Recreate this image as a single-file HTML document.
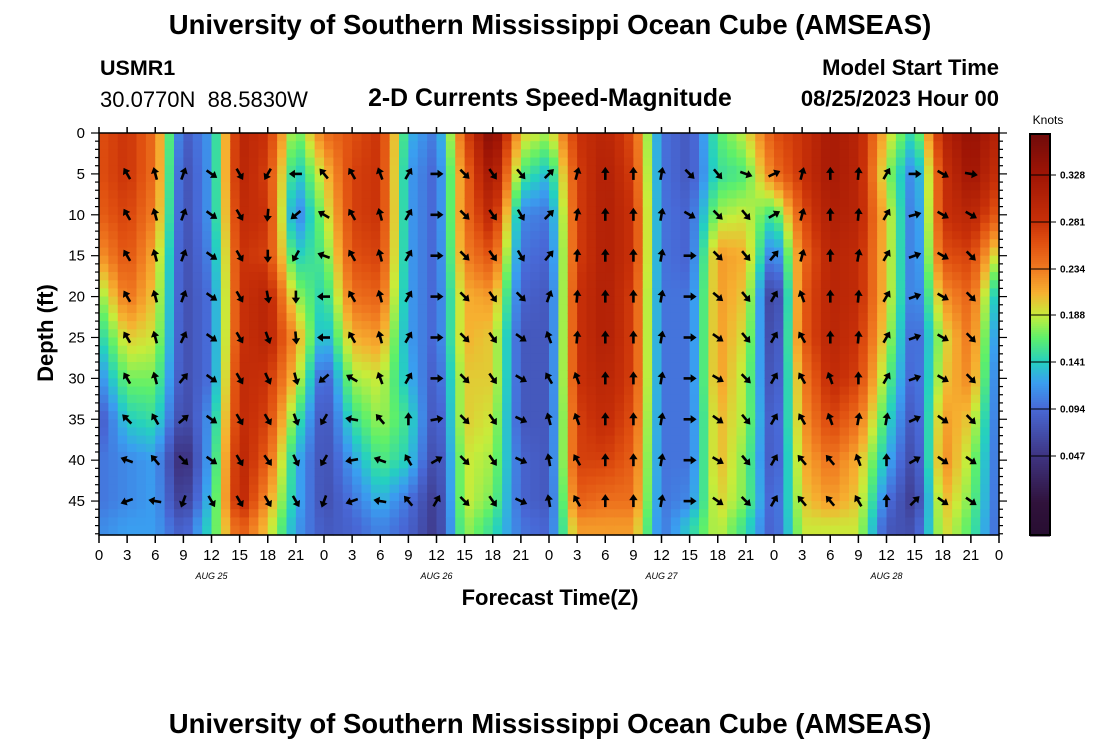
<!DOCTYPE html>
<html><head><meta charset="utf-8"><style>
body{margin:0;background:#fff;width:1100px;height:750px;overflow:hidden;font-family:"Liberation Sans",sans-serif}
svg text{font-family:"Liberation Sans",sans-serif}
</style></head><body>
<svg id="chart" width="1100" height="750" xmlns="http://www.w3.org/2000/svg">
<text x="550" y="34" text-anchor="middle" font-size="27.5" font-weight="bold">University of Southern Mississippi Ocean Cube (AMSEAS)</text>
<text x="100" y="75" font-size="21.5" font-weight="bold">USMR1</text>
<text x="100" y="107" font-size="22" xml:space="preserve">30.0770N  88.5830W</text>
<text x="550" y="106" text-anchor="middle" font-size="24.8" font-weight="bold">2-D Currents Speed-Magnitude</text>
<text x="999" y="75" text-anchor="end" font-size="22" font-weight="bold">Model Start Time</text>
<text x="999" y="106" text-anchor="end" font-size="22" font-weight="bold">08/25/2023 Hour 00</text>
<text transform="translate(53,333) rotate(-90)" text-anchor="middle" font-size="22" font-weight="bold">Depth (ft)</text>
<text x="550" y="605" text-anchor="middle" font-size="22" font-weight="bold">Forecast Time(Z)</text>
<text x="1048" y="124" text-anchor="middle" font-size="12">Knots</text>
<text x="550" y="733" text-anchor="middle" font-size="27.5" font-weight="bold">University of Southern Mississippi Ocean Cube (AMSEAS)</text>
<g id="heat"></g>
<g id="arrows"></g>
<g id="axes"></g>
<g id="cbar"></g>
</svg>
<script>
const times=[0,3,6,9,12,15,18,21,24,27,30,33,36,39,42,45,48,51,54,57,60,63,66,69,72,75,78,81,84,87,90,93,96];
const depths=[0,5,10,15,20,25,30,35,40,45,48];
const speed=[
[0.26,0.26,0.25,0.22,0.17,0.14,0.11,0.08,0.10,0.10,0.11],
[0.28,0.28,0.27,0.26,0.24,0.20,0.17,0.14,0.11,0.11,0.12],
[0.24,0.24,0.23,0.21,0.20,0.19,0.17,0.15,0.12,0.12,0.12],
[0.08,0.07,0.07,0.07,0.07,0.07,0.07,0.06,0.03,0.05,0.08],
[0.12,0.12,0.12,0.11,0.10,0.10,0.10,0.12,0.13,0.14,0.15],
[0.30,0.30,0.29,0.28,0.28,0.28,0.29,0.29,0.30,0.30,0.26],
[0.28,0.27,0.28,0.27,0.30,0.30,0.28,0.27,0.25,0.22,0.20],
[0.16,0.13,0.10,0.14,0.18,0.22,0.20,0.16,0.13,0.13,0.12],
[0.24,0.20,0.18,0.16,0.14,0.12,0.08,0.07,0.07,0.07,0.08],
[0.26,0.27,0.27,0.26,0.24,0.21,0.18,0.15,0.12,0.10,0.09],
[0.28,0.28,0.28,0.27,0.25,0.22,0.19,0.18,0.16,0.13,0.11],
[0.13,0.12,0.12,0.12,0.12,0.12,0.13,0.15,0.14,0.10,0.09],
[0.10,0.09,0.09,0.09,0.09,0.09,0.08,0.07,0.06,0.05,0.05],
[0.26,0.24,0.24,0.23,0.21,0.21,0.20,0.20,0.19,0.19,0.18],
[0.36,0.33,0.30,0.26,0.22,0.20,0.20,0.19,0.18,0.17,0.15],
[0.20,0.16,0.11,0.10,0.09,0.08,0.08,0.08,0.09,0.09,0.10],
[0.18,0.13,0.10,0.09,0.08,0.08,0.08,0.08,0.08,0.08,0.09],
[0.28,0.27,0.27,0.27,0.28,0.28,0.28,0.27,0.27,0.25,0.22],
[0.30,0.31,0.31,0.31,0.31,0.31,0.30,0.29,0.27,0.24,0.22],
[0.26,0.27,0.28,0.28,0.27,0.27,0.27,0.26,0.25,0.24,0.22],
[0.10,0.10,0.10,0.10,0.10,0.10,0.10,0.10,0.10,0.10,0.10],
[0.08,0.08,0.09,0.09,0.10,0.10,0.10,0.10,0.10,0.11,0.14],
[0.16,0.15,0.18,0.22,0.22,0.22,0.22,0.21,0.21,0.20,0.19],
[0.19,0.16,0.19,0.21,0.20,0.19,0.18,0.18,0.17,0.17,0.15],
[0.26,0.24,0.15,0.09,0.04,0.05,0.06,0.07,0.07,0.08,0.08],
[0.28,0.28,0.26,0.24,0.25,0.25,0.23,0.22,0.21,0.20,0.19],
[0.32,0.32,0.31,0.30,0.30,0.30,0.29,0.27,0.24,0.22,0.19],
[0.30,0.30,0.30,0.29,0.29,0.28,0.27,0.24,0.21,0.20,0.19],
[0.20,0.18,0.20,0.20,0.20,0.19,0.17,0.15,0.13,0.10,0.08],
[0.14,0.10,0.09,0.09,0.09,0.08,0.08,0.07,0.06,0.05,0.07],
[0.30,0.28,0.28,0.26,0.22,0.19,0.20,0.22,0.23,0.21,0.20],
[0.34,0.33,0.30,0.27,0.25,0.24,0.23,0.20,0.18,0.17,0.16],
[0.30,0.28,0.25,0.18,0.12,0.10,0.09,0.09,0.09,0.09,0.09]];
const arrowTimes=[3,6,9,12,15,18,21,24,27,30,33,36,39,42,45,48,51,54,57,60,63,66,69,72,75,78,81,84,87,90,93];
const arrowDepths=[5,10,15,20,25,30,35,40,45];
const arrowDir=[
[330,330,330,330,330,330,315,290,250],
[345,345,345,345,345,345,330,320,280],
[20,20,20,20,25,40,50,135,200],
[125,125,125,125,125,125,125,125,150],
[150,150,150,150,150,150,150,150,150],
[210,185,180,170,160,155,150,145,150],
[270,230,210,180,175,165,160,155,150],
[320,300,290,270,270,230,210,210,200],
[330,330,330,330,330,300,280,260,250],
[340,345,345,345,345,340,320,290,280],
[30,30,30,30,30,30,0,330,320],
[90,90,90,90,90,90,80,60,30],
[135,135,135,135,135,135,135,135,135],
[145,145,145,145,145,145,145,145,145],
[140,150,150,135,125,120,115,115,115],
[45,45,40,20,340,330,345,350,350],
[15,10,5,5,5,340,340,330,330],
[0,0,0,0,0,0,0,0,0],
[0,0,0,0,0,0,0,0,0],
[10,10,10,10,10,10,10,10,10],
[135,120,90,90,90,90,90,90,90],
[140,135,135,130,125,120,125,120,125],
[110,140,140,140,140,135,140,140,135],
[65,60,40,30,30,30,30,30,30],
[15,15,15,340,330,330,330,320,320],
[0,0,0,0,0,340,340,320,320],
[5,5,10,5,5,0,10,340,330],
[30,30,30,30,30,30,10,0,0],
[90,75,70,70,70,70,65,60,45],
[120,120,120,120,120,120,125,125,125],
[100,120,135,135,135,135,135,125,125]];
const xTickLabels=["0","3","6","9","12","15","18","21","0","3","6","9","12","15","18","21","0","3","6","9","12","15","18","21","0","3","6","9","12","15","18","21","0"];
const yTickValues=[0,5,10,15,20,25,30,35,40,45];
const cbTicks=[0.047,0.094,0.141,0.188,0.234,0.281,0.328];
const dateLabels=["AUG 25","AUG 26","AUG 27","AUG 28"];
const dateTimes=[12,36,60,84];

const NS="http://www.w3.org/2000/svg";
const X0=99,X1=999,Y0=133,Y1=535,DMAX=49.15;
const xs=t=>X0+(t/96)*(X1-X0);
const ys=d=>Y0+(d/DMAX)*(Y1-Y0);
const stops=[[-0.03,[40,14,50]],[0.0,[48,18,59]],[0.047,[62,52,130]],[0.094,[72,104,214]],[0.12,[58,158,240]],[0.141,[37,208,192]],[0.165,[94,240,106]],[0.188,[200,236,58]],[0.21,[246,176,48]],[0.234,[240,122,32]],[0.26,[224,80,16]],[0.281,[200,48,8]],[0.328,[160,21,5]],[0.37,[110,10,10]]];
function col(v){
 if(v<=stops[0][0])return `rgb(${stops[0][1]})`;
 for(let i=1;i<stops.length;i++){if(v<=stops[i][0]){const a=stops[i-1],b=stops[i],f=(v-a[0])/(b[0]-a[0]);
 return `rgb(${a[1].map((c,k)=>Math.round(c+(b[1][k]-c)*f)).join(',')})`;}}
 return `rgb(${stops[stops.length-1][1]})`;
}
function seg(arr,v){for(let i=0;i<arr.length-1;i++){if(v<=arr[i+1])return i;}return arr.length-2;}
function sample(t,d){
 d=Math.min(d,48);
 const i=seg(times,t),j=seg(depths,d);
 const ft=(t-times[i])/(times[i+1]-times[i]),fd=(d-depths[j])/(depths[j+1]-depths[j]);
 const a=speed[i][j]*(1-fd)+speed[i][j+1]*fd,b=speed[i+1][j]*(1-fd)+speed[i+1][j+1]*fd;
 return a*(1-ft)+b*ft;
}
function mk(tag,attrs,parent){const e=document.createElementNS(NS,tag);for(const k in attrs)e.setAttribute(k,attrs[k]);parent.appendChild(e);return e;}
const heat=document.getElementById('heat');
const dt=1,dd=1;
for(let t=0;t<96;t+=dt){for(let d=0;d<DMAX;d+=dd){
 const r=mk('rect',{x:xs(t).toFixed(2),y:ys(d).toFixed(2),width:(xs(t+dt)-xs(t)+0.6).toFixed(2),height:(ys(Math.min(d+dd,DMAX))-ys(d)+0.6).toFixed(2),fill:col(sample(t+dt/2,d+dd/2))},heat);
 
 
}}
const arrows=document.getElementById('arrows');
arrowTimes.forEach((t,i)=>{arrowDepths.forEach((d,j)=>{
 const g=mk('g',{transform:`translate(${xs(t).toFixed(1)},${ys(d).toFixed(1)}) rotate(${arrowDir[i][j]})`},arrows);
 
 
 mk('line',{x1:0,y1:6,x2:0,y2:-3,stroke:'#000','stroke-width':2.6},g);
 mk('polygon',{points:'0,-7 -4.2,-1 4.2,-1',fill:'#000'},g);
});});
const axes=document.getElementById('axes');
mk('rect',{x:X0,y:Y0,width:X1-X0,height:Y1-Y0,fill:'none',stroke:'#000','stroke-width':1.5},axes);
times.forEach((t,i)=>{
 const x=xs(t);
 mk('line',{x1:x,y1:Y1,x2:x,y2:Y1+8,stroke:'#000','stroke-width':1.5},axes);
 mk('line',{x1:x,y1:Y0,x2:x,y2:Y0-6,stroke:'#000','stroke-width':1.5},axes);
 const tx=mk('text',{x:x,y:Y1+25,'text-anchor':'middle','font-size':15},axes);
 tx.textContent=xTickLabels[i];
 
 
});
for(let d=0;d<=49;d++){
 const y=ys(d),L=d%5===0?8:4;
 mk('line',{x1:X0-L,y1:y,x2:X0,y2:y,stroke:'#000','stroke-width':1.2},axes);
 mk('line',{x1:X1,y1:y,x2:X1+L,y2:y,stroke:'#000','stroke-width':1.2},axes);
}
yTickValues.forEach(v=>{
 const tx=mk('text',{x:X0-14,y:ys(v)+5,'text-anchor':'end','font-size':15},axes);
 tx.textContent=String(v);
 
 
});
dateLabels.forEach((s,i)=>{
 const tx=mk('text',{x:xs(dateTimes[i]),y:579,'text-anchor':'middle','font-size':9,'font-style':'italic','font-family':'Liberation Mono, monospace'},axes);
 tx.textContent=s;
 
 
});
const cb=document.getElementById('cbar');
const CX=1030,CW=20,CT=134,CB=535;
const cv=y=>0.328+(175-y)*(0.047/47);
for(let y=CT;y<CB;y+=2){mk('rect',{x:CX,y:y,width:CW,height:2.5,fill:col(cv(y+1))},cb);}
mk('rect',{x:CX,y:CT,width:CW,height:CB-CT,fill:'none',stroke:'#000','stroke-width':2},cb);
cbTicks.forEach(v=>{
 const y=175+(0.328-v)/0.047*47;
 mk('line',{x1:CX,y1:y,x2:CX+CW+6,y2:y,stroke:'#000','stroke-width':1},cb);
 const tx=mk('text',{x:CX+CW+10,y:y+3.5,'font-size':10,'font-weight':'bold'},cb);
 tx.textContent=v.toFixed(3);
 
 
});
</script>
</body></html>
